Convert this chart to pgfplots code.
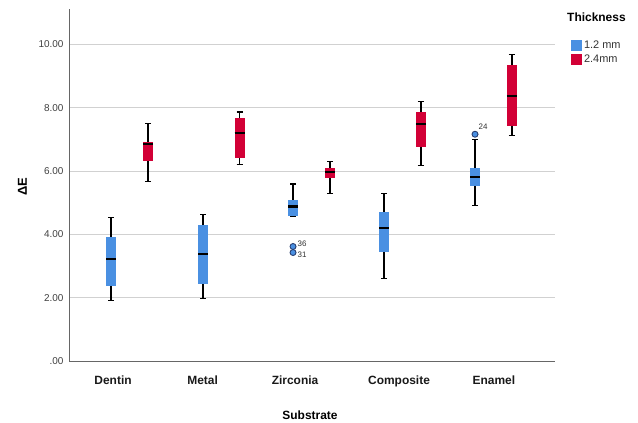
\documentclass[border=0pt]{standalone}
\usepackage{fontspec}
\setmainfont{Liberation Sans}
\usepackage{pgfplots}
\pgfplotsset{compat=1.18}
\usepgfplotslibrary{statistics}
\definecolor{cblue}{RGB}{74,144,226}
\definecolor{cred}{RGB}{210,0,54}
\definecolor{odark}{RGB}{40,62,112}
\pgfplotsset{
  sbox/.style n args={6}{
    boxplot prepared={draw direction=y, draw position=#1, lower whisker=#2, lower quartile=#3,
      median=#4, upper quartile=#5, upper whisker=#6,
      box extend=0.11, whisker extend=0.066},
    boxplot/every box/.style={draw=none},
    boxplot/every whisker/.style={draw=black, line width=1.1pt},
    boxplot/every median/.style={draw=black, line width=2.2pt},
  },
}
\begin{document}
\begin{tikzpicture}
\path[use as bounding box] (0bp,0bp) rectangle (638bp,423bp);
\begin{axis}[
  at={(69bp,61.7bp)}, anchor=south west,
  scale only axis, width=486bp, height=352bp,
  xmin=-0.665, xmax=4.676, ymin=0, ymax=11.1,
  clip=false,
  axis lines=left,
  axis line style={-, draw=black!60, line width=0.9pt},
  ytick={0,2,4,6,8,10},
  yticklabels={.00,2.00,4.00,6.00,8.00,10.00},
  xtick={-0.181,0.804,1.819,2.962,4.005},
  xticklabels={Dentin,Metal,Zirconia,Composite,Enamel},
  major tick length=0pt,
  ymajorgrids, grid style={draw=black!18, line width=0.9pt},
  yticklabel style={font=\fontsize{10}{12}\selectfont, text=black!75, xshift=-2bp},
  xticklabel style={font=\fontsize{12}{14}\selectfont\bfseries, text=black!90, yshift=-11bp},
  xlabel={Substrate},
  xlabel style={at={(axis description cs:0.4959,-0.1526)}, anchor=center, font=\fontsize{12}{14}\selectfont\bfseries},
  ylabel={ΔE},
  ylabel style={at={(axis description cs:-0.0957,0.4952)}, anchor=center, font=\fontsize{13}{15}\selectfont\bfseries},
  legend style={draw=none, fill=none, inner sep=0pt, outer sep=0pt,
    at={(axis description cs:1.0329,0.915)}, anchor=north west, row sep=2.8bp,
    font=\fontsize{11}{13}\selectfont, nodes={inner sep=1.2bp, text=black!80},
    /tikz/every odd column/.append style={column sep=1.5bp}},
  legend cell align=left,
]
\addlegendimage{legend image code/.code={\fill[cblue] (0bp,-5bp) rectangle (10bp,5bp);}}
\addlegendentry{1.2 mm}
\addlegendimage{legend image code/.code={\fill[cred] (0bp,-5bp) rectangle (10bp,5bp);}}
\addlegendentry{2.4mm}
% 1.2 mm
\addplot[fill=cblue, draw=none, sbox={-0.2033}{1.92}{2.37}{3.22}{3.92}{4.54}] coordinates {};
\addplot[fill=cblue, draw=none, sbox={0.8077}{1.97}{2.45}{3.39}{4.30}{4.62}] coordinates {};
\addplot[fill=cblue, draw=none, sbox={1.797}{4.56}{4.59}{4.88}{5.08}{5.59}] coordinates {};
\addplot[fill=cblue, draw=none, sbox={2.797}{2.62}{3.44}{4.21}{4.72}{5.28}] coordinates {};
\addplot[fill=cblue, draw=none, sbox={3.797}{4.91}{5.53}{5.81}{6.09}{6.98}] coordinates {};
% 2.4 mm
\addplot[fill=cred, draw=none, sbox={0.2033}{5.68}{6.32}{6.85}{6.93}{7.49}] coordinates {};
\addplot[fill=cred, draw=none, sbox={1.2088}{6.21}{6.41}{7.21}{7.67}{7.86}] coordinates {};
\addplot[fill=cred, draw=none, sbox={2.2033}{5.30}{5.77}{5.97}{6.11}{6.29}] coordinates {};
\addplot[fill=cred, draw=none, sbox={3.2033}{6.18}{6.77}{7.48}{7.87}{8.20}] coordinates {};
\addplot[fill=cred, draw=none, sbox={4.2033}{7.11}{7.42}{8.37}{9.35}{9.68}] coordinates {};
% outliers
\addplot[only marks, mark=*, mark size=3bp, mark options={fill=cblue, draw=odark, line width=0.9pt}]
  coordinates {(1.797,3.62) (1.797,3.43) (3.797,7.16)};
\node[anchor=west, inner sep=0pt, font=\fontsize{8}{9}\selectfont, text=black!80] at (axis cs:1.845,3.72) {36};
\node[anchor=west, inner sep=0pt, font=\fontsize{8}{9}\selectfont, text=black!80] at (axis cs:1.845,3.36) {31};
\node[anchor=west, inner sep=0pt, font=\fontsize{8}{9}\selectfont, text=black!80] at (axis cs:3.835,7.40) {24};
\end{axis}
\node[anchor=west, inner sep=0pt, font=\fontsize{12}{14}\selectfont\bfseries] at (567bp,405.7bp) {Thickness};
\end{tikzpicture}
\end{document}
